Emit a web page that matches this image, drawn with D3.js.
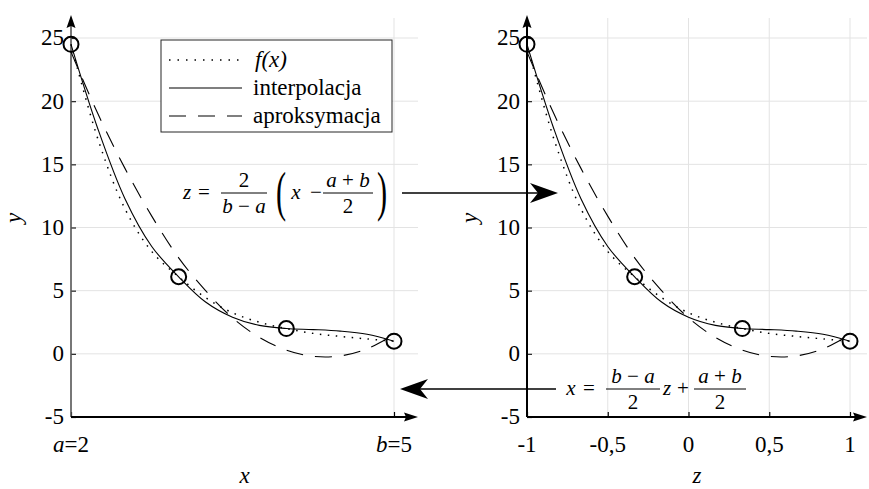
<!DOCTYPE html>
<html>
<head>
<meta charset="utf-8">
<script src="https://cdn.jsdelivr.net/npm/d3@7"></script>
</head>
<body style="margin:0">
<svg id="chart" width="869" height="489"></svg>
<script>
// Interval ends
const a = 2, b = 5;

// Sample points along x in [a, b]
const xSamples    = [2, 2.25, 2.5, 2.75, 3, 3.25, 3.5, 3.75, 4, 4.25, 4.5, 4.75, 5];
// f(x)
const fValues      = [24.5, 17.0, 11.5, 8.1, 6.1, 4.45, 3.25, 2.5, 2.0, 1.62, 1.38, 1.18, 1.0];
// interpolating polynomial through the nodes
const interpValues = [24.5, 17.8, 12.3, 8.5, 6.1, 4.1, 2.9, 2.25, 2.0, 1.92, 1.8, 1.55, 1.0];
// least-squares approximation
const approxValues = [23.9, 19.0, 14.7, 10.9, 7.6, 5.0, 2.85, 1.3, 0.3, -0.2, -0.17, 0.4, 1.5];

// Interpolation nodes
const nodeX = [2, 3, 4, 5];
const nodeY = [24.5, 6.1, 2.0, 1.0];

// Tick values and labels
const yTicks = [-5, 0, 5, 10, 15, 20, 25];
const yTickLabels = ["-5", "0", "5", "10", "15", "20", "25"];
const xTicks = [2, 5];
const xTickNames = ["a", "b"];
const xTickLabels = ["=2", "=5"];
const zTicks = [-1, -0.5, 0, 0.5, 1];
const zTickLabels = ["-1", "-0,5", "0", "0,5", "1"];

const legendLabels = ["f(x)", "interpolacja", "aproksymacja"];
const legendDash = ["1.5,7", null, "17,12"];
const faces = ["Liberation Serif"];

const svg = d3.select("#chart");

const yScale = d3.scaleLinear().domain([-5, 25]).range([417, 38]);
const xScale = d3.scaleLinear().domain([a, b]).range([71, 394]);
const zScale = d3.scaleLinear().domain([-1, 1]).range([527, 850]);
// change of variable x -> z
const toZ = x => (2 * x - a - b) / (b - a);

const FS = 23;
const gridColor = "#e3e3e3";

// text placed straight on the svg root, in the serif face
function label(x, y, size) {
  return svg.append("text").attr("x", x).attr("y", y).attr("font-size", size)
    .style("font-family", `"${faces[0]}"`);
}

function arrowHead(g, tx, ty, dir, len, half, notch) {
  // dir: unit vector pointing toward the tip
  const [dx, dy] = dir;
  const px = -dy, py = dx;
  const bx = tx - dx * len, by = ty - dy * len;
  const nx = tx - dx * (len - notch), ny = ty - dy * (len - notch);
  g.append("path")
    .attr("d", `M${tx},${ty}L${bx + px * half},${by + py * half}L${nx},${ny}L${bx - px * half},${by - py * half}Z`)
    .attr("fill", "#000");
}

function panel(opts) {
  const g = svg.append("g");
  const xs = opts.xScale;
  const x0 = xs.range()[0], xEnd = opts.xEnd;
  const yTop = 18, yBot = yScale(-5);

  // horizontal grid
  g.append("g").selectAll("line").data(yTicks.filter(v => v > -5)).join("line")
    .attr("x1", x0).attr("x2", xEnd)
    .attr("y1", d => yScale(d)).attr("y2", d => yScale(d))
    .attr("stroke", gridColor).attr("stroke-width", 1);
  // vertical grid
  g.append("g").selectAll("line").data(opts.vGrid).join("line")
    .attr("x1", d => xs(d)).attr("x2", d => xs(d))
    .attr("y1", yTop).attr("y2", yBot)
    .attr("stroke", gridColor).attr("stroke-width", 1);

  // tick marks
  const ya = g.append("g").attr("transform", `translate(${x0},0)`)
    .call(d3.axisLeft(yScale).tickValues(yTicks).tickSize(-5).tickFormat(""));
  ya.select(".domain").remove();
  ya.selectAll("line").attr("stroke", "#222").attr("stroke-width", 1.2);
  const xa = g.append("g").attr("transform", `translate(0,${yBot})`)
    .call(d3.axisBottom(xs).tickValues(opts.xTicks).tickSize(-5).tickFormat(""));
  xa.select(".domain").remove();
  xa.selectAll("line").attr("stroke", "#000").attr("stroke-width", 1.2);

  // tick labels
  yTicks.forEach((v, i) => {
    label(x0 - 7, yScale(v), FS).attr("text-anchor", "end").attr("dy", "0.32em").text(yTickLabels[i]);
  });
  opts.xTicks.forEach((v, i) => {
    const t = label(xs(v), yBot + 35, FS).attr("text-anchor", "middle");
    if (opts.italicNames) {
      t.append("tspan").attr("font-style", "italic").text(opts.italicNames[i]);
      t.append("tspan").text(opts.xLabels[i]);
    } else {
      t.text(opts.xLabels[i]);
    }
  });

  // axis lines with arrowheads
  g.append("line").attr("x1", x0).attr("x2", x0).attr("y1", yBot).attr("y2", 26)
    .attr("stroke", opts.yAxisColor).attr("stroke-width", opts.yAxisWidth);
  arrowHead(g, x0, 15, [0, -1], 13, 4.5, 2);
  g.append("line").attr("x1", x0).attr("x2", xEnd - 10).attr("y1", yBot).attr("y2", yBot)
    .attr("stroke", "#000").attr("stroke-width", 2);
  arrowHead(g, xEnd, yBot, [1, 0], 14, 4.5, 2);

  // curves
  const px = opts.px;
  const line = vals => d3.line()
    .x((d, i) => px(xSamples[i]))
    .y(d => yScale(d))
    .curve(d3.curveCatmullRom.alpha(0.5))(vals);

  g.append("path").attr("d", line(fValues)).attr("fill", "none")
    .attr("stroke", "#000").attr("stroke-width", 1.5).attr("stroke-dasharray", "1.5,6.5");
  g.append("path").attr("d", line(interpValues)).attr("fill", "none")
    .attr("stroke", "#000").attr("stroke-width", 1.1);
  g.append("path").attr("d", line(approxValues)).attr("fill", "none")
    .attr("stroke", "#000").attr("stroke-width", 1.1).attr("stroke-dasharray", "17,12");

  // nodes
  g.append("g").selectAll("circle").data(nodeX).join("circle")
    .attr("cx", d => px(d)).attr("cy", (d, i) => yScale(nodeY[i]))
    .attr("r", 7.5).attr("fill", "none").attr("stroke", "#000").attr("stroke-width", 2);

  // axis titles
  label(0, 0, FS)
    .attr("transform", `translate(${x0 - 50},218) rotate(-90)`)
    .attr("text-anchor", "middle").attr("font-style", "italic")
    .text("y");
  label((x0 + xEnd) / 2, 483, FS)
    .attr("text-anchor", "middle").attr("font-style", "italic")
    .text(opts.title);
}

panel({
  xScale: xScale, px: x => xScale(x), xEnd: 418,
  vGrid: [5], xTicks: xTicks, xLabels: xTickLabels, italicNames: xTickNames,
  yAxisColor: "#555", yAxisWidth: 1.6, title: "x"
});
panel({
  xScale: zScale, px: x => zScale(toZ(x)), xEnd: 867,
  vGrid: [-0.5, 0, 0.5, 1], xTicks: zTicks, xLabels: zTickLabels,
  yAxisColor: "#000", yAxisWidth: 2, title: "z"
});

// legend
svg.append("rect").attr("x", 161).attr("y", 40).attr("width", 231).attr("height", 92)
  .attr("fill", "#fff").attr("stroke", "#262626").attr("stroke-width", 1);
legendLabels.forEach((lab, i) => {
  const y = 60 + i * 28;
  const ln = svg.append("line").attr("x1", 169).attr("x2", 242).attr("y1", y).attr("y2", y)
    .attr("stroke", "#000").attr("stroke-width", i === 0 ? 1.5 : 1.1);
  if (legendDash[i]) ln.attr("stroke-dasharray", legendDash[i]);
  const t = label(i === 0 ? 255 : 253, y + 7, FS).text(lab);
  if (i === 0) t.attr("font-style", "italic");
});

// formulas
const MFS = 21;
function mtext(x, y, parts) {
  const t = label(x, y, MFS).attr("text-anchor", "middle");
  parts.forEach(p => t.append("tspan").attr("font-style", p[1] ? "italic" : "normal").text(p[0]));
  return t;
}
function fracBar(x1, x2, y) {
  svg.append("line").attr("x1", x1).attr("x2", x2).attr("y1", y).attr("y2", y)
    .attr("stroke", "#000").attr("stroke-width", 1);
}
function paren(cx, top, bottom, ch) {
  const size = (bottom - top) / 0.89;
  label(0, 0, size).attr("transform", `translate(${cx},${bottom - 0.215 * size}) scale(0.55,1)`)
    .attr("text-anchor", "middle").text(ch);
}

// z = 2/(b-a) (x - (a+b)/2)
const B1 = 193;
mtext(187, B1 + 6, [["z", true]]);
mtext(204, B1 + 6, [["=", false]]);
fracBar(221, 267, B1);
mtext(244, B1 - 6, [["2", false]]);
mtext(244, B1 + 20, [["b", true], [" \u2212 ", false], ["a", true]]);
paren(281, 173, 222, "(");
mtext(296, B1 + 6, [["x", true]]);
mtext(316, B1 + 6, [["\u2212", false]]);
fracBar(323, 373, B1);
mtext(348, B1 - 6, [["a", true], [" + ", false], ["b", true]]);
mtext(348, B1 + 20, [["2", false]]);
paren(382, 173, 222, ")");

// x = (b-a)/2 z + (a+b)/2
const B2 = 389;
mtext(571, B2 + 6, [["x", true]]);
mtext(589, B2 + 6, [["=", false]]);
fracBar(606, 660, B2);
mtext(633, B2 - 6, [["b", true], [" \u2212 ", false], ["a", true]]);
mtext(633, B2 + 20, [["2", false]]);
mtext(667, B2 + 6, [["z", true]]);
mtext(683, B2 + 6, [["+", false]]);
fracBar(694, 746, B2);
mtext(720, B2 - 6, [["a", true], [" + ", false], ["b", true]]);
mtext(720, B2 + 20, [["2", false]]);

// mapping arrows
svg.append("line").attr("x1", 402).attr("x2", 540).attr("y1", B1).attr("y2", B1)
  .attr("stroke", "#000").attr("stroke-width", 1.3);
arrowHead(svg, 558, B1, [1, 0], 28, 10, 8);
svg.append("line").attr("x1", 556).attr("x2", 418).attr("y1", B2).attr("y2", B2)
  .attr("stroke", "#000").attr("stroke-width", 1.3);
arrowHead(svg, 400, B2, [-1, 0], 28, 10, 8);
</script>
</body>
</html>
